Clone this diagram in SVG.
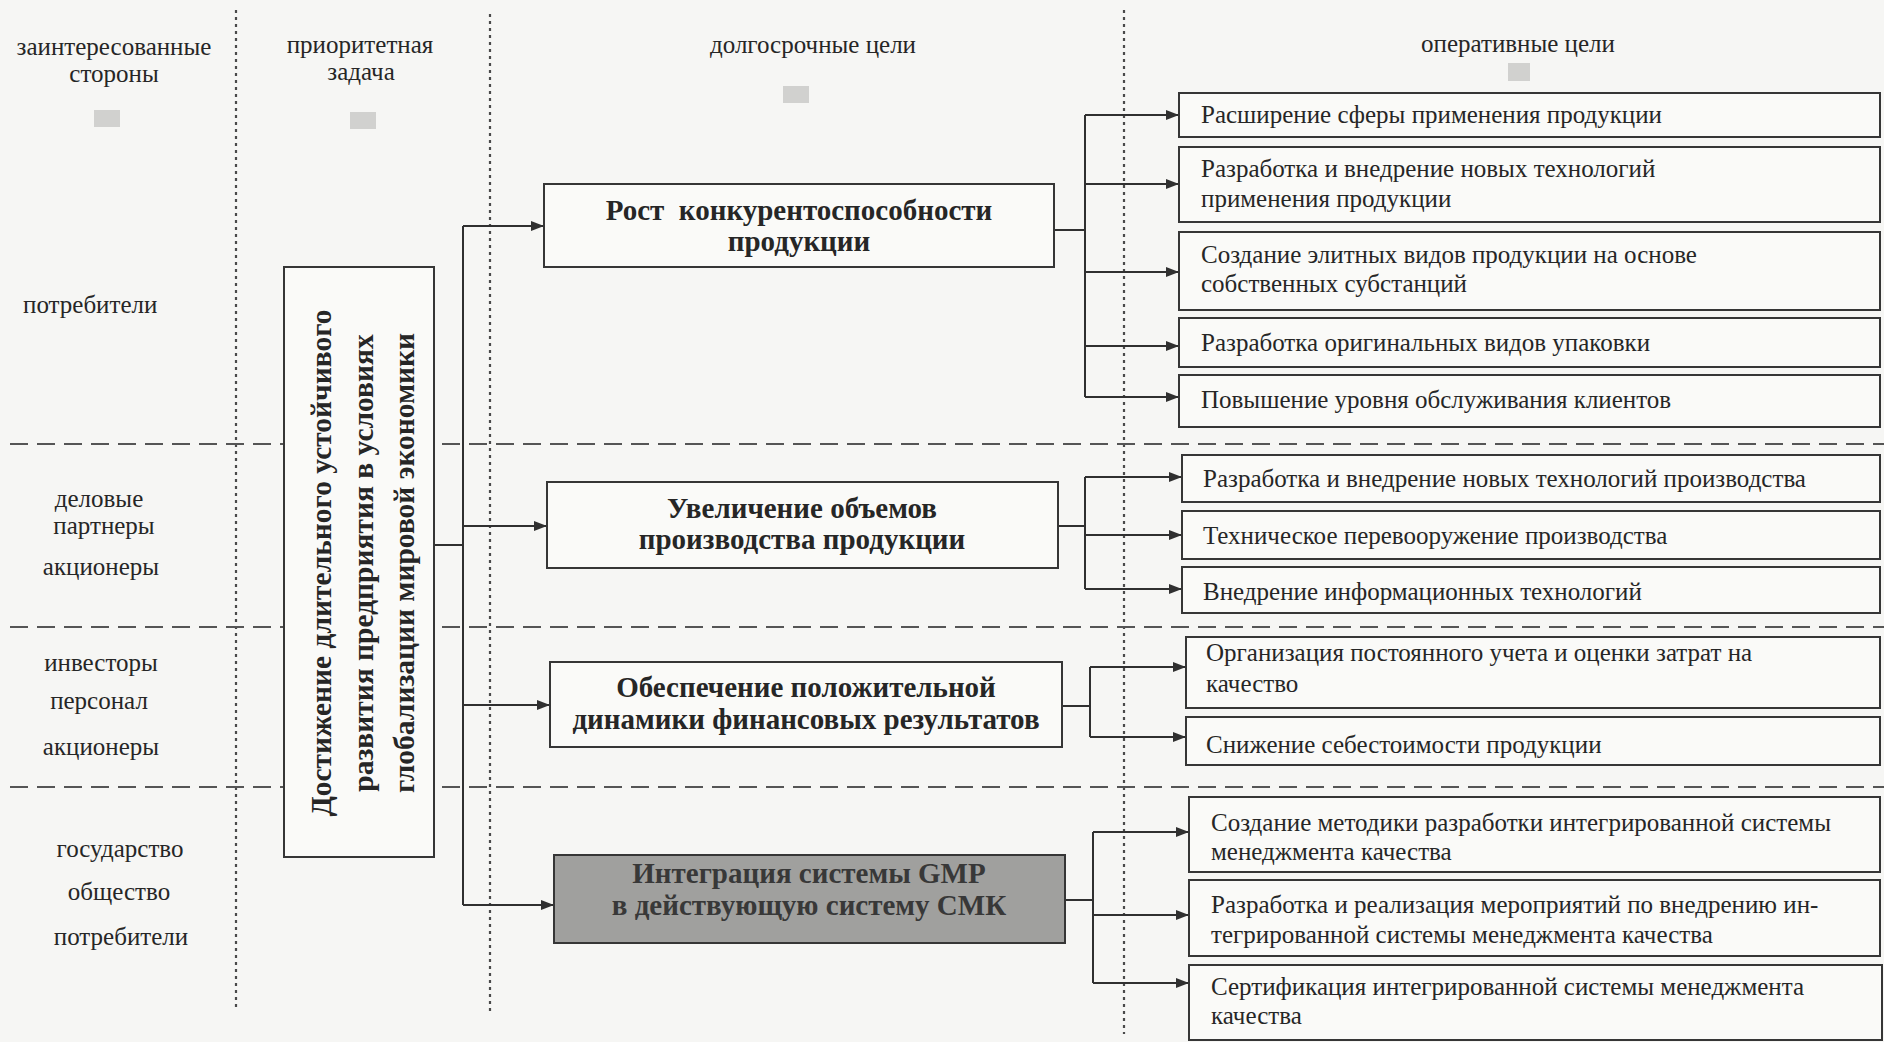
<svg xmlns="http://www.w3.org/2000/svg" width="1884" height="1042" viewBox="0 0 1884 1042">
<defs>
<style>
.t{font-family:"Liberation Serif","Times New Roman",serif;font-size:25px;fill:#262626}
.c{text-anchor:middle}
.b{font-family:"Liberation Serif","Times New Roman",serif;font-size:29px;font-weight:bold;fill:#262626;text-anchor:middle}
.r{font-size:29.5px}
.box{fill:#fafaf8;stroke:#363636;stroke-width:2}
.gbox{fill:#a0a09e;stroke:#363636;stroke-width:2}
.ln{fill:none;stroke:#303030;stroke-width:2}
.ar{fill:none;stroke:#303030;stroke-width:2;marker-end:url(#ah)}
.vd{fill:none;stroke:#4a4a4a;stroke-width:2.2;stroke-dasharray:3 4}
.hd{fill:none;stroke:#555;stroke-width:2;stroke-dasharray:18 9}
.blob{fill:#c8c8c6;opacity:0.8}
</style>
<marker id="ah" markerUnits="userSpaceOnUse" markerWidth="13" markerHeight="10" refX="13" refY="5" orient="auto">
<path d="M0,0 L13,5 L0,10 z" fill="#303030"/>
</marker>
</defs>
<rect x="0" y="0" width="1884" height="1042" fill="#f6f6f4"/>

<g id="grid">
<line class="vd" x1="236" y1="10" x2="236" y2="1008"/>
<line class="vd" x1="490" y1="14" x2="490" y2="1012"/>
<line class="vd" x1="1124" y1="10" x2="1124" y2="1034"/>
<line class="hd" x1="10" y1="444" x2="1884" y2="444"/>
<line class="hd" x1="10" y1="627" x2="1884" y2="627"/>
<line class="hd" x1="10" y1="787" x2="1884" y2="787"/>
</g>

<g id="headers">
<text class="t c" x="114" y="55">заинтересованные</text>
<text class="t c" x="114" y="82">стороны</text>
<text class="t c" x="360" y="53">приоритетная</text>
<text class="t c" x="361" y="80">задача</text>
<text class="t c" x="813" y="53">долгосрочные цели</text>
<text class="t c" x="1518" y="52">оперативные цели</text>
<rect class="blob" x="94" y="110" width="26" height="17"/>
<rect class="blob" x="350" y="112" width="26" height="17"/>
<rect class="blob" x="783" y="86" width="26" height="17"/>
<rect class="blob" x="1508" y="63" width="22" height="18"/>
</g>

<g id="stakeholders">
<text class="t" x="23" y="313">потребители</text>
<text class="t c" x="99" y="507">деловые</text>
<text class="t c" x="104" y="534">партнеры</text>
<text class="t c" x="101" y="575">акционеры</text>
<text class="t c" x="101" y="671">инвесторы</text>
<text class="t c" x="99" y="709">персонал</text>
<text class="t c" x="101" y="755">акционеры</text>
<text class="t c" x="120" y="857">государство</text>
<text class="t c" x="119" y="900">общество</text>
<text class="t c" x="121" y="945">потребители</text>
</g>

<g id="connectors">
<line class="ln" x1="434" y1="545" x2="463" y2="545"/>
<line class="ln" x1="463" y1="226" x2="463" y2="905"/>
<line class="ar" x1="463" y1="226" x2="544" y2="226"/>
<line class="ar" x1="463" y1="526" x2="547" y2="526"/>
<line class="ar" x1="463" y1="705" x2="550" y2="705"/>
<line class="ar" x1="463" y1="905" x2="554" y2="905"/>

<line class="ln" x1="1054" y1="230" x2="1085" y2="230"/>
<line class="ln" x1="1085" y1="115" x2="1085" y2="397"/>
<line class="ar" x1="1085" y1="115" x2="1179" y2="115"/>
<line class="ar" x1="1085" y1="184" x2="1179" y2="184"/>
<line class="ar" x1="1085" y1="272" x2="1179" y2="272"/>
<line class="ar" x1="1085" y1="346" x2="1179" y2="346"/>
<line class="ar" x1="1085" y1="397" x2="1179" y2="397"/>

<line class="ln" x1="1058" y1="526" x2="1085" y2="526"/>
<line class="ln" x1="1085" y1="477" x2="1085" y2="589"/>
<line class="ar" x1="1085" y1="477" x2="1182" y2="477"/>
<line class="ar" x1="1085" y1="535" x2="1182" y2="535"/>
<line class="ar" x1="1085" y1="589" x2="1182" y2="589"/>

<line class="ln" x1="1062" y1="706" x2="1090" y2="706"/>
<line class="ln" x1="1090" y1="667" x2="1090" y2="737"/>
<line class="ar" x1="1090" y1="667" x2="1186" y2="667"/>
<line class="ar" x1="1090" y1="737" x2="1186" y2="737"/>

<line class="ln" x1="1065" y1="900" x2="1093" y2="900"/>
<line class="ln" x1="1093" y1="832" x2="1093" y2="983"/>
<line class="ar" x1="1093" y1="832" x2="1189" y2="832"/>
<line class="ar" x1="1093" y1="915" x2="1189" y2="915"/>
<line class="ar" x1="1093" y1="983" x2="1189" y2="983"/>
</g>

<g id="priority">
<rect class="box" x="284" y="267" width="150" height="590"/>
<text class="b r" transform="translate(331,563) rotate(-90)">Достижение длительного устойчивого</text>
<text class="b r" transform="translate(373,563) rotate(-90)">развития предприятия в условиях</text>
<text class="b r" transform="translate(414,563) rotate(-90)">глобализации мировой экономики</text>
</g>

<g id="goal1">
<rect class="box" x="544" y="184" width="510" height="83"/>
<text class="b" x="799" y="220" xml:space="preserve">Рост  конкурентоспособности</text>
<text class="b" x="799" y="251">продукции</text>
</g>
<g id="goal2">
<rect class="box" x="547" y="482" width="511" height="86"/>
<text class="b" x="802" y="518">Увеличение объемов</text>
<text class="b" x="802" y="549">производства продукции</text>
</g>
<g id="goal3">
<rect class="box" x="550" y="662" width="512" height="85"/>
<text class="b" x="806" y="697">Обеспечение положительной</text>
<text class="b" x="806" y="729">динамики финансовых результатов</text>
</g>
<g id="goal4">
<rect class="gbox" x="554" y="855" width="511" height="88"/>
<text class="b" x="809" y="883" style="fill:#383838">Интеграция системы GMP</text>
<text class="b" x="809" y="915" style="fill:#383838">в действующую систему СМК</text>
</g>

<g id="op1"><rect class="box" x="1179" y="93" width="701" height="44"/><text class="t" x="1201" y="123">Расширение сферы применения продукции</text></g>
<g id="op2"><rect class="box" x="1179" y="147" width="701" height="75"/><text class="t" x="1201" y="177">Разработка и внедрение новых технологий</text><text class="t" x="1201" y="207">применения продукции</text></g>
<g id="op3"><rect class="box" x="1179" y="232" width="701" height="78"/><text class="t" x="1201" y="263">Создание элитных видов продукции на основе</text><text class="t" x="1201" y="292">собственных субстанций</text></g>
<g id="op4"><rect class="box" x="1179" y="318" width="701" height="49"/><text class="t" x="1201" y="351">Разработка оригинальных видов упаковки</text></g>
<g id="op5"><rect class="box" x="1179" y="375" width="701" height="52"/><text class="t" x="1201" y="408">Повышение уровня обслуживания клиентов</text></g>
<g id="op6"><rect class="box" x="1182" y="455" width="698" height="47"/><text class="t" x="1203" y="487">Разработка и внедрение новых технологий производства</text></g>
<g id="op7"><rect class="box" x="1182" y="511" width="698" height="48"/><text class="t" x="1203" y="544">Техническое перевооружение производства</text></g>
<g id="op8"><rect class="box" x="1182" y="567" width="698" height="46"/><text class="t" x="1203" y="600">Внедрение информационных технологий</text></g>
<g id="op9"><rect class="box" x="1186" y="637" width="694" height="71"/><text class="t" x="1206" y="661">Организация постоянного учета и оценки затрат на</text><text class="t" x="1206" y="692">качество</text></g>
<g id="op10"><rect class="box" x="1186" y="717" width="694" height="48"/><text class="t" x="1206" y="753">Снижение себестоимости продукции</text></g>
<g id="op11"><rect class="box" x="1189" y="797" width="691" height="75"/><text class="t" x="1211" y="831">Создание методики разработки интегрированной системы</text><text class="t" x="1211" y="860">менеджмента качества</text></g>
<g id="op12"><rect class="box" x="1189" y="880" width="691" height="76"/><text class="t" x="1211" y="913">Разработка и реализация мероприятий по внедрению ин-</text><text class="t" x="1211" y="943">тегрированной системы менеджмента качества</text></g>
<g id="op13"><rect class="box" x="1189" y="965" width="693" height="75"/><text class="t" x="1211" y="995">Сертификация интегрированной системы менеджмента</text><text class="t" x="1211" y="1024">качества</text></g>
</svg>
